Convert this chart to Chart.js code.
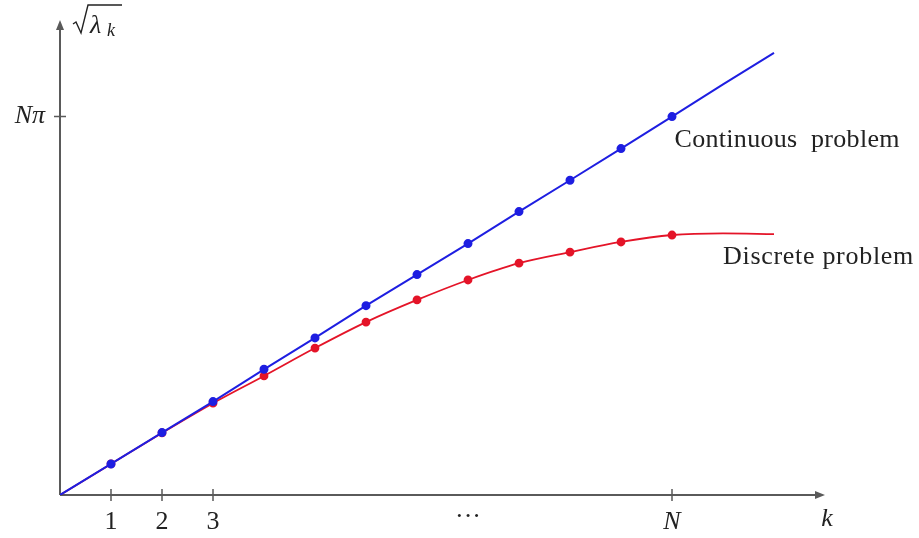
<!DOCTYPE html>
<html lang="en">
<head>
  <meta charset="UTF-8">
  <title>Eigenvalues</title>
  <style>
    html, body { margin: 0; padding: 0; background: #fff; }
  </style>
</head>
<body>
  <div>
    <canvas id="myChart" width="919" height="538"></canvas>
  </div>

  <script src="https://cdn.jsdelivr.net/npm/chart.js"></script>
  <script>
    // k values and the two sets of sqrt(lambda_k)
    const ks = [0, 1, 2, 3, 4, 5, 6, 7, 8, 9, 10, 11, 12, 13, 14];
    const continuous = [0, 0.98, 1.97, 2.95, 3.97, 4.96, 5.98, 6.96, 7.94, 8.95, 9.94, 10.94, 11.95, 12.97, 13.96];
    const discrete = [0, 0.98, 1.96, 2.90, 3.76, 4.64, 5.46, 6.16, 6.79, 7.32, 7.67, 7.99, 8.21, 8.26, 8.24];
    // which points get a dot (k = 1 .. N)
    const dotted = [false, true, true, true, true, true, true, true, true, true, true, true, true, false, false];

    const xTicks = [1, 2, 3, 12];
    const xTickLabels = ['1', '2', '3', 'N'];
    const dotsAt = 8;      // where the "..." sits
    const yTick = 11.95;   // N*pi

    const blue = 'rgb(30, 30, 225)';
    const red = 'rgb(228, 20, 40)';
    const axisColor = '#5a5a5a';
    const serif = '"Liberation Serif", "DejaVu Serif", serif';

    function pts (ys) {
      return ks.map((k, i) => ({ x: k, y: ys[i] }));
    }

    // axes, arrows, ticks and labels drawn on the chart's scales
    const axesPlugin = {
      id: 'axes',
      beforeDatasetsDraw (chart) {
        const ctx = chart.ctx;
        const xs = chart.scales.x;
        const ys = chart.scales.y;
        const x0 = xs.getPixelForValue(0);
        const y0 = ys.getPixelForValue(0);
        const xEnd = xs.getPixelForValue(xs.max);
        const yEnd = ys.getPixelForValue(ys.max);

        ctx.save();
        ctx.strokeStyle = axisColor;
        ctx.fillStyle = axisColor;
        ctx.lineWidth = 2;
        ctx.beginPath();
        ctx.moveTo(x0, y0);
        ctx.lineTo(xEnd - 6, y0);
        ctx.moveTo(x0, y0);
        ctx.lineTo(x0, yEnd + 6);
        ctx.stroke();

        // arrow heads
        ctx.beginPath();
        ctx.moveTo(xEnd, y0);
        ctx.lineTo(xEnd - 10, y0 - 4);
        ctx.lineTo(xEnd - 10, y0 + 4);
        ctx.closePath();
        ctx.fill();
        ctx.beginPath();
        ctx.moveTo(x0, yEnd);
        ctx.lineTo(x0 - 4, yEnd + 10);
        ctx.lineTo(x0 + 4, yEnd + 10);
        ctx.closePath();
        ctx.fill();

        // tick marks
        ctx.lineWidth = 1.5;
        ctx.beginPath();
        xTicks.forEach(v => {
          const px = xs.getPixelForValue(v);
          ctx.moveTo(px, y0 - 6);
          ctx.lineTo(px, y0 + 6);
        });
        const py = ys.getPixelForValue(yTick);
        ctx.moveTo(x0 - 6, py);
        ctx.lineTo(x0 + 6, py);
        ctx.stroke();

        // labels
        ctx.fillStyle = '#222';
        ctx.textAlign = 'center';
        ctx.textBaseline = 'middle';
        xTicks.forEach((v, i) => {
          const px = xs.getPixelForValue(v);
          const lab = xTickLabels[i];
          ctx.font = (isNaN(lab) ? 'italic ' : '') + '26px ' + serif;
          ctx.fillText(lab, px, y0 + 27);
        });
        ctx.font = '26px ' + serif;
        ctx.fillText('\u00b7\u00b7\u00b7', xs.getPixelForValue(dotsAt), y0 + 22);
        ctx.font = 'italic 26px ' + serif;
        ctx.fillText('k', xEnd + 2, y0 + 24);

        ctx.textAlign = 'right';
        ctx.font = 'italic 26px ' + serif;
        ctx.fillText('N\u03c0', x0 - 15, py);

        // sqrt(lambda_k): radical sign drawn as a path
        ctx.strokeStyle = '#222';
        ctx.lineWidth = 1.4;
        ctx.beginPath();
        ctx.moveTo(x0 + 13, yEnd + 4);
        ctx.lineTo(x0 + 16, yEnd + 2);
        ctx.lineTo(x0 + 21, yEnd + 13);
        ctx.lineTo(x0 + 28, yEnd - 15);
        ctx.lineTo(x0 + 62, yEnd - 15);
        ctx.stroke();
        ctx.textAlign = 'left';
        ctx.textBaseline = 'alphabetic';
        ctx.font = 'italic 26px ' + serif;
        ctx.fillText('\u03bb', x0 + 30, yEnd + 13);
        ctx.font = 'italic 18px ' + serif;
        ctx.fillText('k', x0 + 47, yEnd + 16);

        // curve names
        ctx.font = '26px ' + serif;
        ctx.textBaseline = 'middle';
        ctx.letterSpacing = '0.3px';
        ctx.fillText('Continuous  problem', xs.getPixelForValue(12.05), ys.getPixelForValue(11.2));
        ctx.letterSpacing = '0.7px';
        ctx.fillText('Discrete problem', xs.getPixelForValue(13.0), ys.getPixelForValue(7.5));
        ctx.restore();
      }
    };

    const data = {
      datasets: [{
        label: 'Continuous problem',
        data: pts(continuous),
        borderColor: blue,
        backgroundColor: blue,
        borderWidth: 2,
        pointRadius: ctx => dotted[ctx.dataIndex] ? 3.5 : 0,
        showLine: true,
        tension: 0,
        order: 1
      }, {
        label: 'Discrete problem',
        data: pts(discrete),
        borderColor: red,
        backgroundColor: red,
        borderWidth: 1.8,
        pointRadius: ctx => dotted[ctx.dataIndex] ? 3.5 : 0,
        showLine: true,
        cubicInterpolationMode: 'monotone',
        order: 2
      }]
    };

    const config = {
      type: 'scatter',
      data: data,
      options: {
        responsive: false,
        animation: false,
        layout: {
          padding: { left: 60, right: 94, top: 20, bottom: 43 }
        },
        plugins: {
          legend: { display: false },
          tooltip: { enabled: false }
        },
        scales: {
          x: { type: 'linear', min: 0, max: 15, display: false },
          y: { type: 'linear', min: 0, max: 15, display: false }
        }
      },
      plugins: [axesPlugin]
    };

    const myChart = new Chart(
      document.getElementById('myChart'),
      config
    );
  </script>
</body>
</html>
